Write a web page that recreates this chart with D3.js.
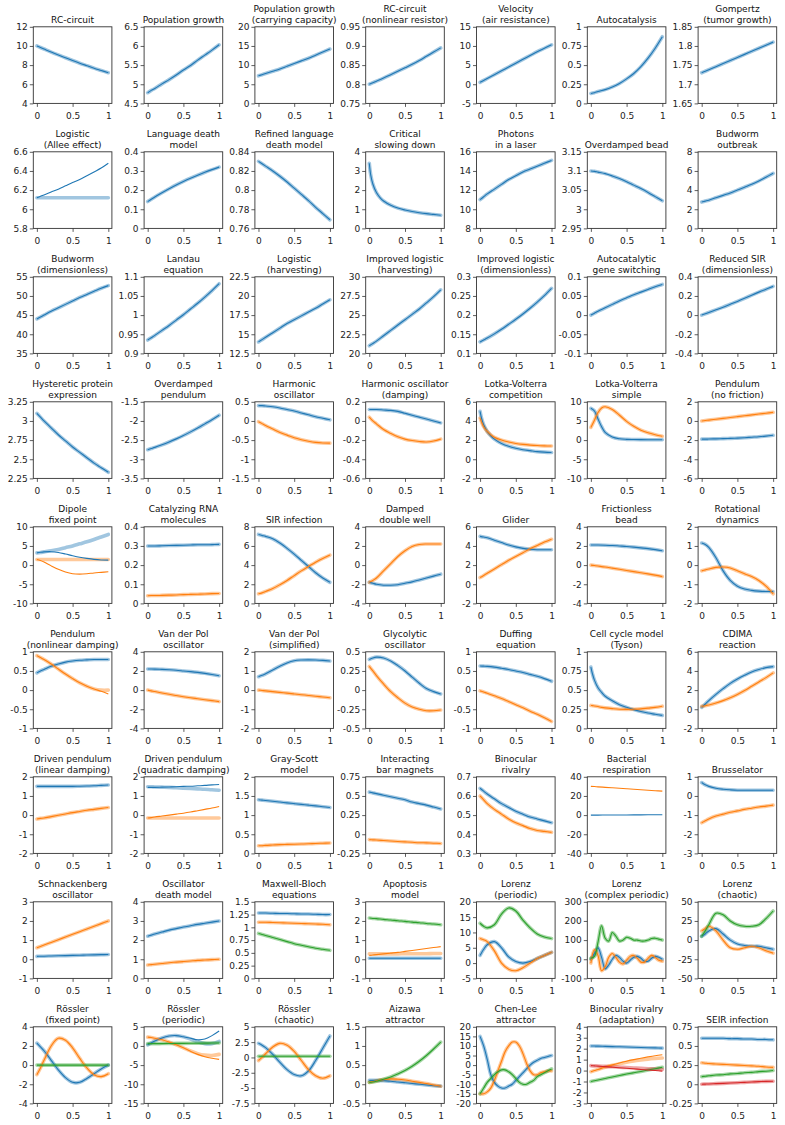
<!DOCTYPE html>
<html><head><meta charset="utf-8">
<script src="https://cdn.jsdelivr.net/npm/d3@7"></script>
<style>body{margin:0;background:#fff}text{font-family:"DejaVu Sans",sans-serif}</style>
</head><body>
<script>
// ---------- time grids ----------
const gridA = [0,.05,.1,.2,.3,.4,.5,.6,.7,.8,.9,1];
const gridB = [0,.02,.05,.1,.15,.2,.3,.4,.5,.6,.7,.8,.9,1];
const gridC = [0,.05,.1,.15,.2,.3,.4,.5,.6,.7,.8,.9,1];
const gridD = [0,.05,.1,.15,.2,.25,.3,.35,.4,.45,.5,.55,.6,.65,.7,.75,.8,.85,.9,.95,1];
const grids = {A:gridA,B:gridB,C:gridC,D:gridD};
const seriesColors = ['#1f77b4','#ff7f0e','#2ca02c','#d62728'];
const xTicks = [0,0.5,1];

const titles = [
"RC-circuit","Population growth","Population growth\n(carrying capacity)","RC-circuit\n(nonlinear resistor)","Velocity\n(air resistance)","Autocatalysis","Gompertz\n(tumor growth)",
"Logistic\n(Allee effect)","Language death\nmodel","Refined language\ndeath model","Critical\nslowing down","Photons\nin a laser","Overdamped bead","Budworm\noutbreak",
"Budworm\n(dimensionless)","Landau\nequation","Logistic\n(harvesting)","Improved logistic\n(harvesting)","Improved logistic\n(dimensionless)","Autocatalytic\ngene switching","Reduced SIR\n(dimensionless)",
"Hysteretic protein\nexpression","Overdamped\npendulum","Harmonic\noscillator","Harmonic oscillator\n(damping)","Lotka-Volterra\ncompetition","Lotka-Volterra\nsimple","Pendulum\n(no friction)",
"Dipole\nfixed point","Catalyzing RNA\nmolecules","SIR infection","Damped\ndouble well","Glider","Frictionless\nbead","Rotational\ndynamics",
"Pendulum\n(nonlinear damping)","Van der Pol\noscillator","Van der Pol\n(simplified)","Glycolytic\noscillator","Duffing\nequation","Cell cycle model\n(Tyson)","CDIMA\nreaction",
"Driven pendulum\n(linear damping)","Driven pendulum\n(quadratic damping)","Gray-Scott\nmodel","Interacting\nbar magnets","Binocular\nrivalry","Bacterial\nrespiration","Brusselator",
"Schnackenberg\noscillator","Oscillator\ndeath model","Maxwell-Bloch\nequations","Apoptosis\nmodel","Lorenz\n(periodic)","Lorenz\n(complex periodic)","Lorenz\n(chaotic)",
"Rössler\n(fixed point)","Rössler\n(periodic)","Rössler\n(chaotic)","Aizawa\nattractor","Chen-Lee\nattractor","Binocular rivalry\n(adaptation)","SEIR infection"];

const yTicks = [
[4,6,8,10,12],[4.5,5,5.5,6,6.5],[0,5,10,15,20],[0.75,0.8,0.85,0.9,0.95],[-5,0,5,10,15],[0,0.25,0.5,0.75,1],[1.65,1.7,1.75,1.8,1.85],
[5.8,6,6.2,6.4,6.6],[0,0.1,0.2,0.3,0.4],[0.76,0.78,0.8,0.82,0.84],[0,1,2,3,4],[8,10,12,14,16],[2.95,3,3.05,3.1,3.15],[0,2,4,6,8],
[35,40,45,50,55],[0.9,0.95,1,1.05,1.1],[12.5,15,17.5,20,22.5],[20,22.5,25,27.5,30],[0.1,0.15,0.2,0.25,0.3],[-0.1,-0.05,0,0.05,0.1],[-0.4,-0.2,0,0.2,0.4],
[2.25,2.5,2.75,3,3.25],[-3.5,-3,-2.5,-2,-1.5],[-1.5,-1,-0.5,0,0.5],[-0.6,-0.4,-0.2,0,0.2],[-2,0,2,4,6],[-10,-5,0,5,10],[-6,-4,-2,0,2],
[-10,-5,0,5,10],[0,0.1,0.2,0.3,0.4],[0,2,4,6,8],[-4,-2,0,2,4],[-2,0,2,4,6],[-4,-2,0,2,4],[-2,-1,0,1,2],
[-1,-0.5,0,0.5,1],[-4,-2,0,2,4],[-2,-1,0,1,2],[-0.5,-0.25,0,0.25,0.5],[-1,-0.5,0,0.5,1],[0,0.25,0.5,0.75,1],[-2,0,2,4,6],
[-2,-1,0,1,2],[-2,-1,0,1,2],[0,0.5,1,1.5,2],[-0.25,0,0.25,0.5,0.75],[0.3,0.4,0.5,0.6,0.7],[-40,-20,0,20,40],[-3,-2,-1,0,1],
[-1,0,1,2,3],[0,1,2,3,4],[0,0.25,0.5,0.75,1,1.25,1.5],[-1,0,1,2,3],[-5,0,5,10,15,20],[-100,0,100,200,300],[-50,-25,0,25,50],
[-4,-2,0,2,4],[-15,-10,-5,0,5],[-7.5,-5,-2.5,0,2.5,5],[-0.5,0,0.5,1,1.5],[-20,-15,-10,-5,0,5,10,15,20],[-3,-2,-1,0,1,2,3,4],[-0.25,0,0.25,0.5,0.75]];

const gridOf = "AAAAAAA" + "AAABAAA" + "AAAAAAA" + "AAAABCA" + "AAAAAAA" + "AAAAABA" + "AAAAAAA" + "AAAAADA" + "AAAADAA";

// observed trajectories (thick, translucent); null = none
const observed = [
[[10,9.84,9.68,9.36,9.06,8.77,8.48,8.2,7.94,7.68,7.44,7.2]],
[[4.78,4.84,4.89,5.01,5.12,5.24,5.37,5.49,5.63,5.76,5.89,6.03]],
[[7.2,7.5,7.8,8.4,9.0,9.7,10.4,11.1,11.8,12.6,13.4,14.2]],
[[.8,.804,.808,.816,.825,.834,.843,.852,.862,.873,.884,.895]],
[[0.5,1.0,1.5,2.5,3.5,4.5,5.5,6.5,7.5,8.5,9.4,10.3]],
[[.13,.14,.155,.18,.215,.26,.32,.39,.48,.59,.72,.87]],
[[1.73,1.734,1.738,1.746,1.754,1.762,1.77,1.778,1.786,1.794,1.802,1.81]],
// row 2
[[6.12,6.12,6.12,6.12,6.12,6.12,6.12,6.12,6.12,6.12,6.12,6.12]],
[[.14,.152,.164,.186,.207,.227,.245,.262,.278,.293,.307,.32]],
[[.83,.8275,.825,.82,.8145,.8085,.802,.7955,.789,.782,.7755,.769]],
[[3.4,2.8,2.32,1.87,1.61,1.43,1.21,1.06,.96,.88,.82,.77,.73,.69]],
[[11,11.3,11.6,12.1,12.6,13.1,13.5,13.9,14.2,14.5,14.8,15.1]],
[[3.1,3.099,3.097,3.093,3.087,3.08,3.072,3.063,3.054,3.044,3.033,3.022]],
[[2.75,2.85,2.95,3.2,3.45,3.7,4.0,4.3,4.6,4.95,5.35,5.75]],
// row 3
[[44,44.5,45,46,46.9,47.8,48.7,49.6,50.4,51.2,52,52.7]],
[[.935,.941,.947,.96,.973,.987,1.001,1.016,1.031,1.047,1.064,1.082]],
[[14,14.3,14.6,15.2,15.8,16.4,16.9,17.4,17.9,18.4,18.95,19.5]],
[[21,21.3,21.6,22.3,23,23.7,24.4,25.1,25.8,26.6,27.4,28.3]],
[[.13,.135,.14,.151,.163,.176,.189,.203,.218,.234,.251,.27]],
[[0,.005,.01,.019,.028,.037,.045,.053,.06,.067,.074,.08]],
[[0,.013,.027,.055,.083,.113,.143,.175,.208,.24,.27,.3]],
// row 4
[[3.1,3.05,3.0,2.91,2.82,2.74,2.66,2.59,2.52,2.45,2.39,2.33]],
[[-2.75,-2.72,-2.69,-2.623,-2.549,-2.468,-2.38,-2.285,-2.185,-2.077,-1.967,-1.85]],
[[.4,.4,.39,.37,.34,.3,.26,.21,.16,.11,.07,.03],[-.02,-.07,-.12,-.21,-.3,-.37,-.44,-.49,-.53,-.56,-.575,-.58]],
[[.12,.12,.12,.115,.11,.1,.08,.06,.04,.02,0,-.02],[.04,0,-.03,-.09,-.13,-.165,-.19,-.205,-.215,-.22,-.21,-.19]],
[[5,4.3,3.6,2.9,2.45,2.1,1.65,1.35,1.15,1,.9,.8,.74,.7],[4.3,3.9,3.4,2.9,2.55,2.3,2,1.8,1.65,1.55,1.48,1.43,1.4,1.38]],
[[8.3,7.6,5.5,3.5,2,.8,.35,.2,.15,.12,.1,.1,.1],[3.3,5.2,7.2,8.4,8.7,8,6.5,4.9,3.6,2.6,1.9,1.4,1]],
[[-1.9,-1.9,-1.89,-1.87,-1.85,-1.82,-1.79,-1.75,-1.7,-1.65,-1.58,-1.5],[0,.05,.09,.18,.27,.36,.45,.54,.63,.72,.81,.9]],
// row 5
[[3.2,3.3,3.45,3.75,4.1,4.55,5,5.55,6.1,6.7,7.35,8],[1.45,1.45,1.45,1.45,1.45,1.45,1.45,1.45,1.45,1.45,1.45,1.45]],
[[.3,.3,.3,.301,.302,.303,.304,.305,.306,.306,.307,.308],[.04,.041,.041,.042,.043,.044,.046,.047,.048,.049,.051,.052]],
[[7.2,7.1,7,6.75,6.3,5.75,5.15,4.5,3.85,3.2,2.65,2.2],[1,1.1,1.25,1.55,1.95,2.4,2.9,3.4,3.85,4.3,4.7,5.05]],
[[-1.8,-1.9,-2,-2.1,-2.1,-2.05,-1.9,-1.75,-1.55,-1.35,-1.15,-0.95],[-1.8,-1.6,-1.35,-0.6,0.15,0.9,1.5,1.95,2.15,2.2,2.2,2.2]],
[[5,4.93,4.85,4.6,4.35,4.1,3.9,3.75,3.65,3.6,3.6,3.6],[.7,.92,1.15,1.6,2.05,2.5,2.9,3.3,3.7,4.05,4.4,4.7]],
[[2.1,2.1,2.1,2.08,2.05,2,1.95,1.88,1.8,1.72,1.62,1.5],[0,-.05,-.1,-.2,-.32,-.44,-.56,-.68,-.8,-.92,-1.05,-1.2]],
[[1.15,1.08,.92,.38,-.3,-.8,-1.1,-1.25,-1.32,-1.36,-1.38,-1.38],[-.3,-.25,-.2,-.12,-.1,-.15,-.3,-.45,-.6,-.8,-1.1,-1.5]],
// row 6
[[.45,.5,.54,.62,.68,.73,.76,.78,.79,.8,.8,.8],[.9,.85,.8,.68,.55,.42,.3,.19,.1,.03,0,0]],
[[2.2,2.2,2.19,2.16,2.12,2.07,2,1.93,1.85,1.75,1.63,1.5],[0,-.08,-.15,-.3,-.44,-.57,-.69,-.8,-.9,-1,-1.1,-1.2]],
[[.7,.77,.85,1.05,1.25,1.42,1.53,1.57,1.58,1.57,1.55,1.52],[0,-.02,-.04,-.08,-.12,-.16,-.2,-.24,-.28,-.32,-.36,-.4]],
[[.4,.42,.43,.42,.38,.32,.25,.17,.09,.02,-.02,-.05],[.31,.25,.19,.08,-.02,-.1,-.17,-.22,-.25,-.27,-.27,-.26]],
[[.63,.625,.62,.6,.57,.54,.5,.46,.41,.36,.3,.23],[-.02,-.05,-.08,-.15,-.22,-.3,-.38,-.46,-.55,-.63,-.72,-.82]],
[[.8,.72,.63,.53,.47,.42,.36,.31,.275,.245,.22,.2,.185,.17],[.3,.297,.293,.285,.275,.268,.258,.25,.248,.25,.255,.265,.275,.29]],
[[.2,.55,.9,1.55,2.15,2.7,3.15,3.55,3.9,4.15,4.35,4.45],[.3,.37,.45,.65,.9,1.2,1.55,1.95,2.4,2.85,3.3,3.8]],
// row 7
[[1.5,1.5,1.5,1.5,1.5,1.5,1.5,1.51,1.52,1.53,1.55,1.57],[-.2,-.17,-.15,-.08,-.01,.06,.13,.19,.25,.3,.35,.4]],
[[1.48,1.48,1.47,1.46,1.45,1.43,1.41,1.39,1.37,1.35,1.32,1.3],[-.15,-.15,-.15,-.15,-.15,-.15,-.15,-.15,-.15,-.15,-.15,-.15]],
[[1.4,1.39,1.38,1.36,1.34,1.32,1.3,1.28,1.26,1.24,1.22,1.2],[.2,.2,.21,.22,.23,.235,.24,.245,.25,.26,.265,.27]],
[[.55,.54,.53,.51,.49,.47,.45,.42,.4,.38,.355,.33],[-.07,-.073,-.076,-.082,-.088,-.094,-.1,-.105,-.11,-.113,-.117,-.12]],
[[.64,.625,.61,.585,.56,.54,.52,.505,.49,.48,.47,.46],[.6,.58,.56,.53,.505,.48,.46,.445,.43,.42,.415,.41]],
[null,null],
[[.7,.58,.5,.4,.35,.32,.3,.3,.3,.3,.3,.3],[-1.4,-1.3,-1.2,-1.05,-.95,-.85,-.78,-.7,-.64,-.58,-.53,-.48]],
// row 8
[[.15,.155,.16,.17,.18,.19,.2,.21,.22,.23,.24,.25],[.6,.67,.74,.88,1.02,1.16,1.3,1.44,1.58,1.72,1.86,2]],
[[2.2,2.26,2.32,2.42,2.52,2.6,2.68,2.75,2.82,2.88,2.94,3],[.7,.72,.74,.78,.82,.85,.88,.91,.94,.96,.98,1]],
[[1.28,1.28,1.28,1.275,1.27,1.27,1.265,1.26,1.26,1.255,1.25,1.25],[1.1,1.1,1.1,1.095,1.09,1.085,1.08,1.075,1.07,1.065,1.06,1.05],[.88,.86,.84,.8,.76,.72,.68,.65,.62,.59,.57,.55]],
[[.05,.05,.05,.05,.05,.05,.05,.05,.05,.05,.05,.05],[.28,.28,.28,.28,.28,.28,.29,.29,.29,.29,.3,.3],[2.15,2.13,2.12,2.08,2.05,2.01,1.98,1.94,1.91,1.87,1.84,1.8]],
[[2.5,4.5,6,7,5,2,.5,0,.5,1.5,2.5,3.5],[8,7.6,7,4,0,-2,-2.5,-1.5,0,1.5,2.5,3.5],[13,12,11.5,12.5,16,18,17,14,11.5,9.5,8.5,8]],
[[0,30,60,10,-50,-30,0,20,10,-10,-20,-5,10,15,5,-10,-10,5,15,10,0],[-20,50,20,-60,-40,10,30,10,-15,-25,-5,15,20,5,-15,-15,5,20,10,-5,-10],[5,15,90,175,110,95,140,120,95,100,115,110,100,100,95,95,100,108,110,105,100]],
[[5,8,12,15,8,0,-5,-7,-8,-8,-10,-12],[12,15,18,12,0,-10,-12,-10,-8,-10,-14,-17],[5,12,20,35,33,25,20,18,18,20,28,38]],
// row 9
[[2.3,1.9,1.5,.5,-.5,-1.3,-1.8,-1.8,-1.4,-.9,-.4,0],[-1,-.3,.5,2,2.8,2.6,1.8,.7,-.3,-1,-1.2,-.9],[0,0,0,0,0,0,0,0,0,0,0,0]],
[[.3,.8,1.3,2.1,2.6,2.7,2.4,1.8,1.1,.6,.6,1.2],[2.3,2.2,2,1.6,1,.3,-.5,-1.3,-2,-2.4,-2.5,-2.2],[.6,.6,.6,.62,.64,.66,.68,.7,.72,.74,.76,.78]],
[[2.3,2,1.6,.5,-.8,-2,-2.8,-3,-2.2,-.5,1.5,3.5],[-.5,0,.6,1.7,2.3,2,1,-.5,-2,-3,-3.4,-3],[.2,.2,.2,.2,.2,.2,.2,.2,.2,.2,.2,.2]],
[[.1,.1,.1,.09,.08,.06,.04,.02,0,-.02,-.04,-.05],[.05,.07,.09,.12,.14,.13,.11,.08,.05,.02,-.02,-.05],[.05,.06,.08,.13,.19,.27,.36,.47,.6,.75,.92,1.1]],
[[15,10,3,-5,-9,-11,-12,-12,-11,-10,-8,-6,-4,-2,0,1.5,2.5,3.5,4,4.5,5],[-15,-15,-14,-12,-8,-3,2,7,10,12,12,10,6,1,-3,-5,-5,-4,-3.5,-3,-3],[-15,-12,-9,-7,-5,-3.5,-2.5,-2.5,-3.5,-5,-7,-9,-10,-10,-9,-8,-6,-5,-4,-3,-2]],
[[2.25,2.24,2.23,2.21,2.19,2.17,2.15,2.13,2.11,2.09,2.07,2.05],[-.1,0,.1,.3,.48,.63,.76,.87,.96,1.04,1.1,1.15],[-1,-.93,-.86,-.72,-.58,-.45,-.32,-.2,-.08,.05,.17,.3],[.45,.43,.42,.38,.35,.31,.28,.24,.2,.17,.13,.1]],
[[.6,.6,.6,.6,.6,.595,.595,.59,.59,.585,.585,.58],[.28,.275,.27,.265,.26,.255,.25,.245,.24,.235,.225,.22],[.1,.105,.11,.12,.125,.135,.14,.15,.155,.165,.17,.18],[0,.002,.004,.008,.012,.016,.02,.025,.03,.034,.038,.04]]
];

// fitted model trajectories (thin); null entry = identical to observed
const fitted = {
7:[[6.12,6.135,6.15,6.18,6.21,6.245,6.28,6.31,6.35,6.39,6.43,6.48]],
28:[[3.2,3.35,3.45,3.5,3.3,2.9,2.45,2.05,1.75,1.5,1.35,1.3],[1.45,1.2,0.8,-0.2,-1.1,-1.8,-2.25,-2.35,-2.25,-2.05,-1.9,-1.75]],
35:[null,[.9,.85,.8,.68,.55,.42,.3,.19,.1,.03,-.03,-.1]],
43:[[1.45,1.45,1.45,1.46,1.47,1.48,1.5,1.51,1.53,1.55,1.58,1.6],[-.15,-.13,-.1,-.05,0,.05,.1,.16,.23,.3,.37,.45]],
47:[[0,0,.02,.05,.08,.12,.16,.2,.25,.3,.35,.4],[30,29.8,29.5,29,28.5,28,27.5,27,26.5,26,25.5,25]],
52:[null,[.2,.22,.24,.28,.32,.36,.41,.46,.51,.56,.61,.66],null],
57:[[.3,.8,1.3,2.1,2.6,2.7,2.4,2,1.6,1.8,2.7,3.9],[2.3,2.2,2,1.6,1,.3,-.5,-1.4,-2.2,-2.8,-3.2,-3.5],null],
61:[null,[-.1,0,.1,.32,.52,.7,.86,1,1.13,1.25,1.36,1.45],null,[.45,.43,.41,.36,.31,.26,.21,.16,.1,.05,0,-.05]]
};

// ---------- layout ----------
const W = 785, H = 1125;
const colScale = d3.scaleLinear().domain([0,6]).range([33.3, 698.1]);
const rowScale = d3.scaleLinear().domain([0,8]).range([26.8, 1026.8]);
const pw = 78.6, ph = 76.6;
const svg = d3.select("body").append("svg").attr("width",W).attr("height",H);
const line = (x,y,xs) => d3.line().x((d,i)=>x(xs[i])).y(d=>y(d)).curve(d3.curveCatmullRom.alpha(0.5));
const fmt = v => String(v);

titles.forEach((title, i) => {
  const r = Math.floor(i/7), c = i%7;
  const g = svg.append("g").attr("transform", `translate(${colScale(c)},${rowScale(r)})`);
  const x = d3.scaleLinear().domain([-0.05,1.05]).range([0,pw]);
  const ticks = yTicks[i];
  const y = d3.scaleLinear().domain([ticks[0], ticks[ticks.length-1]]).range([ph,0]);
  const xs = grids[gridOf[i]];

  g.append("clipPath").attr("id","clip"+i).append("rect").attr("width",pw).attr("height",ph);
  const plot = g.append("g").attr("clip-path",`url(#clip${i})`);

  const obs = observed[i];
  const fit = fitted[i] || obs.map(()=>null);
  obs.forEach((s, k) => {
    if (!s) return;
    plot.append("path").attr("d", line(x,y,xs)(s)).attr("fill","none")
      .attr("stroke", seriesColors[k]).attr("stroke-width",3.6).attr("stroke-opacity",0.42)
      .attr("stroke-linecap","round").attr("stroke-linejoin","round");
  });
  obs.forEach((s, k) => {
    const m = fit[k] || s;
    if (!m) return;
    plot.append("path").attr("d", line(x,y,xs)(m)).attr("fill","none")
      .attr("stroke", seriesColors[k]).attr("stroke-width",1.1);
  });

  const ax = g.append("g").attr("transform",`translate(0,${ph})`)
    .call(d3.axisBottom(x).tickValues(xTicks).tickFormat(fmt).tickSize(3.5).tickPadding(5.5));
  const ay = g.append("g")
    .call(d3.axisLeft(y).tickValues(ticks).tickFormat(fmt).tickSize(3.5).tickPadding(2));
  [ax, ay].forEach(a => {
    a.select(".domain").remove();
    a.selectAll(".tick line").attr("stroke","#333").attr("stroke-width",0.8);
    a.selectAll("text").attr("font-size",9).attr("fill","#222").attr("font-family","DejaVu Sans");
  });
  g.append("rect").attr("width",pw).attr("height",ph).attr("fill","none")
    .attr("stroke","#333").attr("stroke-width",0.9);

  const lines = title.split("\n");
  const t = g.append("text").attr("text-anchor","middle").attr("font-size",9).attr("fill","#111");
  lines.forEach((l, j) => {
    t.append("tspan").attr("x", pw/2).attr("y", -4 - (lines.length-1-j)*10.4).text(l);
  });
});
</script>
</body></html>
